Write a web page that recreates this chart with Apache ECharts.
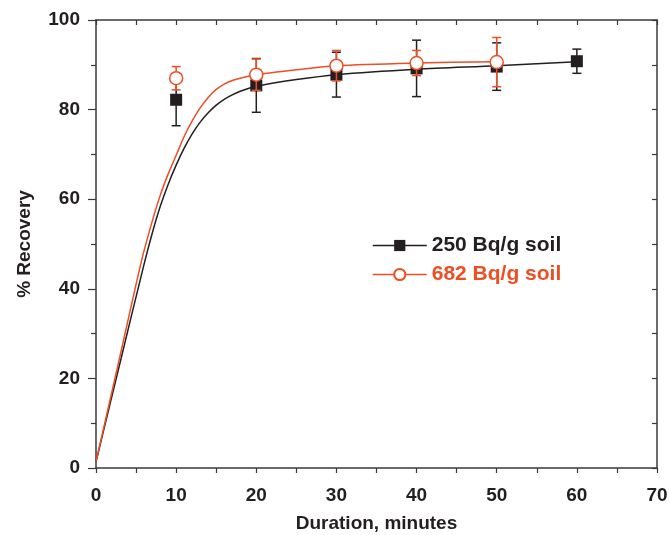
<!DOCTYPE html>
<html>
<head>
<meta charset="utf-8">
<script src="https://cdn.jsdelivr.net/npm/echarts@6/dist/echarts.min.js"></script>
<style>html,body{margin:0;padding:0;background:#fff}#c{width:669px;height:535px}</style>
</head>
<body>
<div id="c"></div>
<script>
// Measured points: [minutes, % recovery, error]
var black_x = [10, 20, 30, 40, 50, 60];
var black_y = [82.2, 85.4, 87.8, 89.2, 89.6, 90.8];
var black_err = [5.8, 6.0, 5.0, 6.3, 5.3, 2.7];
var orange_x = [10, 20, 30, 40, 50];
var orange_y = [87.0, 87.8, 89.8, 90.4, 90.6];
var orange_err = [2.6, 3.5, 3.4, 2.8, 5.5];
// Fitted curves
var blackFit_x = [0, 3, 6, 7, 8, 9, 10, 11, 12, 13, 14, 15, 16, 17, 18, 20, 25, 30, 40, 50, 60];
var blackFit_y = [1.4, 23.5, 45.5, 52.3, 58.3, 63.3, 67.6, 71.4, 74.6, 77.2, 79.3, 81.0, 82.3, 83.3, 84.1, 85.2, 86.7, 87.8, 89.0, 89.8, 90.7];
var orangeFit_x = [0, 3, 5.7, 7, 8, 9, 10, 11, 12, 13, 14, 15, 16, 17, 18, 20, 25, 30, 40, 50];
var orangeFit_y = [1.4, 25.0, 46.4, 55.0, 60.8, 65.6, 69.8, 74.0, 77.5, 80.4, 82.7, 84.5, 85.7, 86.5, 87.0, 87.8, 88.9, 89.8, 90.4, 90.7];
var xTicks = [0, 10, 20, 30, 40, 50, 60, 70];
var yTicks = [0, 20, 40, 60, 80, 100];
var seriesNames = ['250 Bq/g soil', '682 Bq/g soil'];

var BLACK = '#231f20', ORANGE = '#ee4e24', AXIS = '#3a3a3a';
function zip(a, b) { return a.map(function (v, i) { return [v, b[i]]; }); }
function errData(xs, ys, es) { return xs.map(function (x, i) { return [x, ys[i] - es[i], ys[i] + es[i]]; }); }
function errRender(color) {
  return function (params, api) {
    var lo = api.coord([api.value(0), api.value(1)]);
    var hi = api.coord([api.value(0), api.value(2)]);
    var w = 4.5;
    var st = { stroke: color, lineWidth: 1.5, fill: null };
    return { type: 'group', children: [
      { type: 'line', shape: { x1: lo[0], y1: lo[1], x2: hi[0], y2: hi[1] }, style: st },
      { type: 'line', shape: { x1: lo[0] - w, y1: lo[1], x2: lo[0] + w, y2: lo[1] }, style: st },
      { type: 'line', shape: { x1: hi[0] - w, y1: hi[1], x2: hi[0] + w, y2: hi[1] }, style: st }
    ]};
  };
}
var font = 'Liberation Sans, Arial, sans-serif';
var labelStyle = { color: BLACK, fontSize: 19, fontWeight: 'bold', fontFamily: font };
function xAx(pos) {
  var main = pos === 'bottom';
  return {
    type: 'value', position: pos, min: 0, max: 70, interval: 10,
    axisLine: { show: true, onZero: false, lineStyle: { color: AXIS, width: 1.5 } },
    axisTick: { show: true, inside: !main, length: 5, lineStyle: { color: AXIS, width: 1.2 } },
    minorTick: { show: true, splitNumber: 2, length: 5, lineStyle: { color: AXIS, width: 1.2 } },
    axisLabel: main ? Object.assign({ margin: 18, formatter: function (v) { return xTicks.indexOf(v) >= 0 ? String(v) : ''; } }, labelStyle) : { show: false },
    splitLine: { show: false },
    name: main ? 'Duration, minutes' : '', nameLocation: 'middle', nameGap: 46,
    nameTextStyle: { color: BLACK, fontSize: 19, fontWeight: 'bold', fontFamily: font }
  };
}
function yAx(pos) {
  var main = pos === 'left';
  return {
    type: 'value', position: pos, min: 0, max: 100, interval: 20,
    axisLine: { show: true, onZero: false, lineStyle: { color: AXIS, width: 1.5 } },
    axisTick: { show: true, inside: !main, length: main ? 8 : 5, lineStyle: { color: AXIS, width: 1.2 } },
    minorTick: { show: true, splitNumber: 2, length: 5, lineStyle: { color: AXIS, width: 1.2 } },
    axisLabel: main ? Object.assign({ margin: 16, formatter: function (v) { return yTicks.indexOf(v) >= 0 ? String(v) : ''; } }, labelStyle) : { show: false },
    splitLine: { show: false },
    name: main ? '% Recovery' : '', nameLocation: 'middle', nameGap: 62,
    nameTextStyle: { color: BLACK, fontSize: 19, fontWeight: 'bold', fontFamily: font }
  };
}

var chart = echarts.init(document.getElementById('c'), null, { renderer: 'canvas' });
chart.setOption({
  backgroundColor: '#fff',
  animation: false,
  grid: { left: 96, right: 12, top: 20, bottom: 67, containLabel: false, outerBoundsMode: 'none' },
  xAxis: [xAx('bottom'), xAx('top')],
  yAxis: [yAx('left'), yAx('right')],
  legend: {
    orient: 'vertical', left: 367, top: 230, itemWidth: 54, itemHeight: 14, itemGap: 8,
    textStyle: { fontSize: 21, fontWeight: 'bold', fontFamily: font },
    data: [
      { name: seriesNames[0], lineStyle: { opacity: 1, width: 1.5, color: BLACK }, textStyle: { color: BLACK } },
      { name: seriesNames[1], lineStyle: { opacity: 1, width: 1.5, color: ORANGE }, textStyle: { color: ORANGE } }
    ]
  },
  series: [
    { name: 'fit250', type: 'line', data: zip(blackFit_x, blackFit_y), smooth: 0.3, symbol: 'none',
      lineStyle: { color: BLACK, width: 1.5 }, z: 2 },
    { name: 'fit682', type: 'line', data: zip(orangeFit_x, orangeFit_y), smooth: 0.3, symbol: 'none',
      lineStyle: { color: ORANGE, width: 1.5 }, z: 2 },
    { name: 'err250', type: 'custom', data: errData(black_x, black_y, black_err), renderItem: errRender(BLACK), z: 3 },
    { name: seriesNames[0], type: 'line', data: zip(black_x, black_y), symbol: 'rect', symbolSize: 12,
      itemStyle: { color: BLACK }, lineStyle: { opacity: 0, color: BLACK }, z: 4 },
    { name: 'err682', type: 'custom', data: errData(orange_x, orange_y, orange_err), renderItem: errRender(ORANGE), z: 5 },
    { name: seriesNames[1], type: 'line', data: zip(orange_x, orange_y), symbol: 'circle', symbolSize: 13,
      showAllSymbol: true,
      itemStyle: { color: '#fff', borderColor: ORANGE, borderWidth: 1.5 }, lineStyle: { opacity: 0, color: ORANGE }, z: 6 }
  ]
});
</script>
</body>
</html>
